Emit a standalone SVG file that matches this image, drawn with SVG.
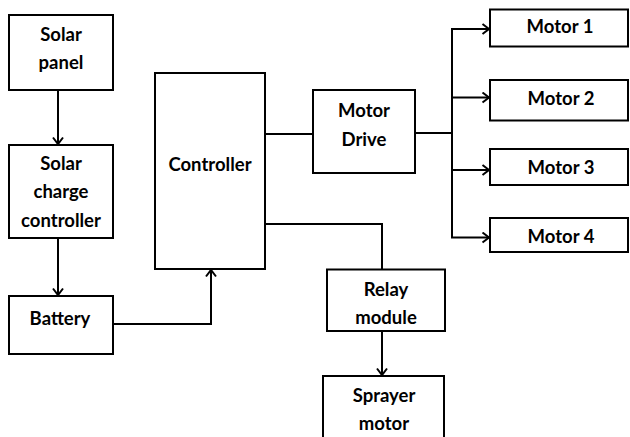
<svg xmlns="http://www.w3.org/2000/svg" width="630" height="437" viewBox="0 0 630 437">
<style>
.box{fill:#fff;stroke:#000;stroke-width:2}
.t{font-family:Lato,"Liberation Sans",sans-serif;font-weight:bold;font-size:18.5px;fill:#000;text-anchor:middle}
.c{fill:none;stroke:#000;stroke-width:2}
</style>
<defs>
<marker id="ah" markerWidth="12" markerHeight="12" refX="9" refY="6" orient="auto" markerUnits="userSpaceOnUse">
<path d="M2.5,1 L9,6 L2.5,11" fill="none" stroke="#000" stroke-width="2"/>
</marker>
</defs>
<rect width="630" height="437" fill="#fff"/>
<g id="connectors">
<path class="c" d="M58,90 V144" marker-end="url(#ah)"/>
<path class="c" d="M58,238 V295" marker-end="url(#ah)"/>
<path class="c" d="M113,324 H211 V270" marker-end="url(#ah)"/>
<path class="c" d="M265,134 H313"/>
<path class="c" d="M415,133 H452"/>
<path class="c" d="M489,29 H452 V237.5 H489" marker-end="url(#ah)"/>
<path class="c" d="M452,29 H489" marker-end="url(#ah)"/>
<path class="c" d="M452,97.5 H489" marker-end="url(#ah)"/>
<path class="c" d="M452,170 H489" marker-end="url(#ah)"/>
<path class="c" d="M265,224 H382 V269"/>
<path class="c" d="M382,331 V375" marker-end="url(#ah)"/>
</g>
<g id="solar-panel"><rect class="box" x="9" y="15" width="104" height="75"/><text class="t" x="61" y="40.5">Solar</text><text class="t" x="61" y="68.5">panel</text></g>
<g id="charge-controller"><rect class="box" x="9" y="145" width="104" height="93"/><text class="t" x="61" y="169.5">Solar</text><text class="t" x="61" y="198">charge</text><text class="t" x="61" y="226.5">controller</text></g>
<g id="battery"><rect class="box" x="9" y="296" width="104" height="58"/><text class="t" x="60" y="325">Battery</text></g>
<g id="controller"><rect class="box" x="155" y="73" width="110" height="196"/><text class="t" x="210" y="170.5">Controller</text></g>
<g id="motor-drive"><rect class="box" x="313" y="90" width="102" height="83"/><text class="t" x="364" y="116.5">Motor</text><text class="t" x="364" y="145.5">Drive</text></g>
<g id="motor1"><rect class="box" x="490" y="9.5" width="138" height="37"/><text class="t" x="560" y="33">Motor 1</text></g>
<g id="motor2"><rect class="box" x="490" y="80" width="138" height="40.5"/><text class="t" x="561" y="104.5">Motor 2</text></g>
<g id="motor3"><rect class="box" x="490" y="149" width="138" height="36"/><text class="t" x="561" y="173.5">Motor 3</text></g>
<g id="motor4"><rect class="box" x="490" y="218" width="138" height="34"/><text class="t" x="561" y="242.5">Motor 4</text></g>
<g id="relay"><rect class="box" x="327" y="269.5" width="118" height="61.5"/><text class="t" x="386" y="295.5">Relay</text><text class="t" x="386" y="323.5">module</text></g>
<g id="sprayer"><rect class="box" x="323" y="376" width="121" height="70"/><text class="t" x="384" y="401.5">Sprayer</text><text class="t" x="384" y="429.5">motor</text></g>
</svg>
